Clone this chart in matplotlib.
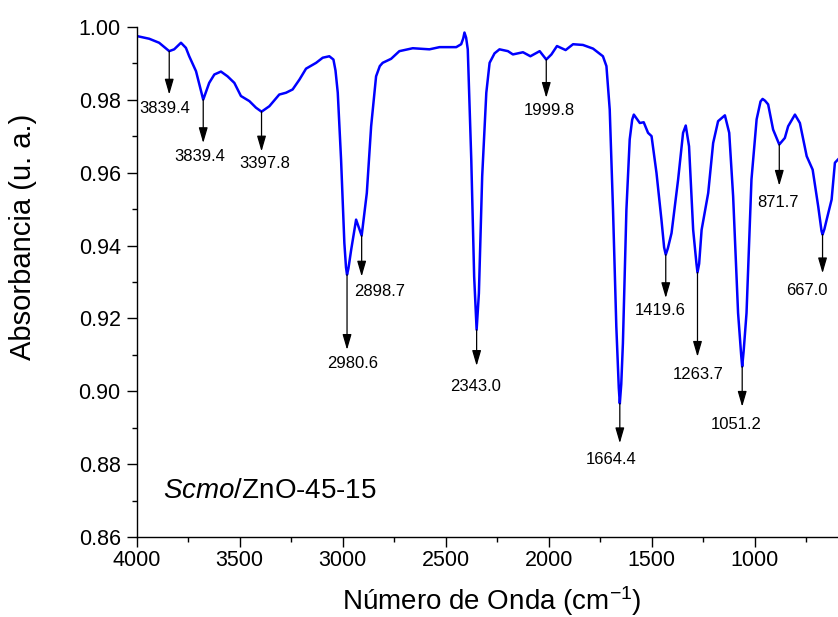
import matplotlib as mpl
mpl.use('Agg')
import matplotlib.pyplot as plt
from matplotlib.ticker import MultipleLocator, FormatStrFormatter
import numpy as np

# FTIR spectrum (cm-1, absorbance)
wavenumber = [3996, 3939, 3891, 3842, 3818, 3785, 3761, 3745, 3712, 3677,
              3648, 3623, 3591, 3559, 3526, 3494, 3453, 3421, 3394, 3356,
              3308, 3275, 3243, 3210, 3178, 3129, 3097, 3065, 3045, 3035,
              3024, 3008, 2992, 2984, 2979, 2972, 2959, 2935, 2908, 2883,
              2862, 2838, 2820, 2806, 2765, 2725, 2660, 2579, 2530, 2449,
              2425, 2415, 2409, 2401, 2393, 2376, 2362, 2350, 2339, 2323,
              2303, 2287, 2263, 2239, 2198, 2174, 2125, 2089, 2044, 2012,
              1987, 1960, 1918, 1882, 1834, 1785, 1737, 1720, 1704, 1688,
              1672, 1660, 1655, 1648, 1640, 1623, 1607, 1595, 1587, 1558,
              1539, 1518, 1501, 1477, 1453, 1440, 1432, 1422, 1404, 1372,
              1348, 1335, 1319, 1299, 1283, 1278, 1270, 1258, 1226, 1202,
              1178, 1145, 1124, 1105, 1081, 1066, 1061, 1054, 1040, 1016,
              991, 972, 962, 950, 935, 911, 881, 854, 838, 805,
              781, 748, 719, 692, 676, 671, 662, 651, 627, 611,
              596]
absorbance = [0.9974, 0.9967, 0.9956, 0.9933, 0.9938, 0.9956, 0.9942, 0.9919, 0.9878, 0.9800,
              0.9846, 0.9869, 0.9877, 0.9864, 0.9846, 0.9810, 0.9796, 0.9778, 0.9767, 0.9782,
              0.9814, 0.9819, 0.9828, 0.9855, 0.9885, 0.9901, 0.9915, 0.9919, 0.9910, 0.9880,
              0.9819, 0.9636, 0.9407, 0.9340, 0.9320, 0.9338, 0.9388, 0.9471, 0.9427, 0.9544,
              0.9727, 0.9864, 0.9892, 0.9901, 0.9912, 0.9933, 0.9941, 0.9938, 0.9944, 0.9944,
              0.9952, 0.9968, 0.9984, 0.9970, 0.9938, 0.9636, 0.9315, 0.9169, 0.9269, 0.9590,
              0.9819, 0.9901, 0.9927, 0.9938, 0.9933, 0.9924, 0.9930, 0.9919, 0.9933, 0.9910,
              0.9924, 0.9947, 0.9936, 0.9952, 0.9950, 0.9940, 0.9919, 0.9892, 0.9773, 0.9498,
              0.9178, 0.9010, 0.8967, 0.9020, 0.9132, 0.9498, 0.9691, 0.9745, 0.9759, 0.9736,
              0.9738, 0.9709, 0.9700, 0.9599, 0.9471, 0.9395, 0.9375, 0.9392, 0.9434, 0.9581,
              0.9709, 0.9729, 0.9672, 0.9443, 0.9350, 0.9326, 0.9350, 0.9443, 0.9544, 0.9681,
              0.9741, 0.9757, 0.9709, 0.9535, 0.9215, 0.9100, 0.9068, 0.9110, 0.9215, 0.9581,
              0.9746, 0.9795, 0.9802, 0.9797, 0.9787, 0.9718, 0.9677, 0.9695, 0.9727, 0.9759,
              0.9736, 0.9645, 0.9608, 0.9507, 0.9440, 0.9430, 0.9445, 0.9471, 0.9526, 0.9627,
              0.9636]

# marked bands: label text and where the dip sits
peak_labels = ["3839.4", "3839.4", "3397.8", "2980.6", "2898.7", "2343.0", "1999.8",
               "1664.4", "1419.6", "1263.7", "1051.2", "871.7", "667.0"]
peak_wn = [3842, 3677, 3394, 2979, 2908, 2350, 2012, 1655, 1432, 1278, 1061, 881, 671]

# layout of the arrows: tip height, then label centre (x, y)
arrow_tip = [0.9814, 0.9681, 0.9658, 0.9114, 0.9315, 0.9070, 0.9805,
             0.8858, 0.9256, 0.9095, 0.8958, 0.9564, 0.9324]
label_pos = [(3862, 0.9776), (3696, 0.9645), (3380, 0.9625), (2954, 0.9077),
             (2822, 0.9274), (2355, 0.9013), (1996, 0.9771), (1696, 0.8812),
             (1461, 0.9221), (1275, 0.9045), (1088, 0.8908), (886, 0.9518),
             (748, 0.9277)]

plt.rcParams['font.family'] = ['Liberation Sans', 'DejaVu Sans']
plt.rcParams['mathtext.fontset'] = 'custom'
plt.rcParams['mathtext.rm'] = 'Liberation Sans'
plt.rcParams['mathtext.it'] = 'Liberation Sans:italic'

fig = plt.figure(figsize=(8.38, 6.17), dpi=100)
ax = fig.add_axes([0.1631, 0.1292, 0.8369, 0.8275])

ax.plot(wavenumber, absorbance, color='#0000ff', linewidth=1.8)

# arrows start on the curve itself
wn_sorted = np.array(wavenumber[::-1])
ab_sorted = np.array(absorbance[::-1])
for lab, x, tip, (tx, ty) in zip(peak_labels, peak_wn, arrow_tip, label_pos):
    start = np.interp(x, wn_sorted, ab_sorted)
    ax.annotate('', xy=(x, tip), xytext=(x, start),
                arrowprops=dict(arrowstyle='-|>,head_length=0.55,head_width=0.16',
                                color='black', lw=0.9, mutation_scale=17,
                                shrinkA=0, shrinkB=0))
    ax.text(tx, ty, lab, fontsize=12, ha='center', va='center')

ax.text(0.0375, 0.091, r'$\mathit{Scmo}$/ZnO-45-15', transform=ax.transAxes,
        fontsize=20, ha='left', va='center')

ax.set_xlim(4000, 596)
ax.set_ylim(0.86, 1.00)
ax.xaxis.set_major_locator(MultipleLocator(500))
ax.xaxis.set_minor_locator(MultipleLocator(250))
ax.yaxis.set_major_locator(MultipleLocator(0.02))
ax.yaxis.set_minor_locator(MultipleLocator(0.01))
ax.yaxis.set_major_formatter(FormatStrFormatter('%.2f'))

ax.spines['top'].set_visible(False)
ax.spines['right'].set_visible(False)
ax.spines['left'].set_linewidth(1.0)
ax.spines['bottom'].set_linewidth(1.0)
ax.tick_params(which='major', direction='out', length=7.5, width=1.0, labelsize=15.5)
ax.tick_params(which='minor', direction='out', length=3.8, width=1.0)
ax.tick_params(axis='x', which='major', pad=2)
ax.tick_params(axis='y', which='major', pad=4)

ax.set_xlabel(u'Número de Onda (cm$^{-1}$)', fontsize=20)
ax.xaxis.label.set_va('center')
ax.xaxis.set_label_coords(0.506, -0.125)
ax.set_ylabel('Absorbancia (u. a.)', fontsize=21)
ax.yaxis.label.set_va('center')
ax.yaxis.set_label_coords(-0.162, 0.588)

plt.savefig('out.png', dpi=100)
